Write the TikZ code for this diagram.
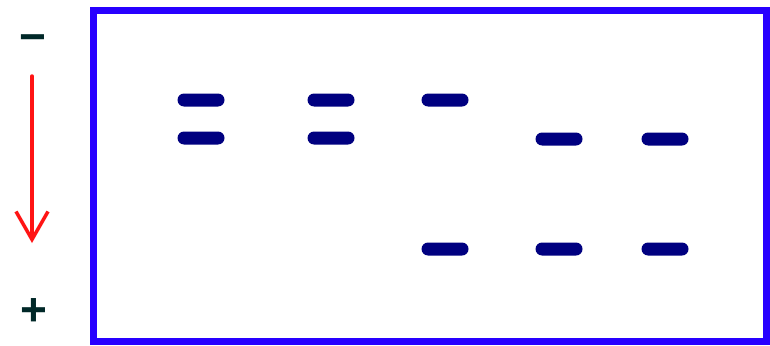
\documentclass[tikz,border=0pt]{standalone}
\usepackage{fontspec}
\setmainfont{Liberation Sans}
\usetikzlibrary{arrows.meta}
\definecolor{boxblue}{RGB}{40,0,255}
\definecolor{bandblue}{RGB}{0,0,128}
\definecolor{signcol}{RGB}{0,40,40}
\definecolor{arrowred}{RGB}{255,20,20}
\tikzset{
  band/.style={fill=bandblue, draw=none, minimum width=47pt, minimum height=13pt, rounded corners=6.5pt, inner sep=0pt},
  sign/.style={text=signcol, font=\fontsize{46}{46}\selectfont\bfseries, inner sep=0pt},
  gelbox/.style={draw=boxblue, line width=7pt},
  migr/.style={draw=arrowred, line width=3.5pt, line cap=round, -{Straight Barb[length=28pt,width=32pt,line width=3.5pt]}}
}
\begin{document}
\begin{tikzpicture}[x=1pt,y=-1pt]
\useasboundingbox (0,0) rectangle (770,345);
\fill[white] (0,0) rectangle (770,345);
\node[gelbox, minimum width=673pt, minimum height=330pt, inner sep=0pt] (gel) at (430,176) {};
% bands
\node[band] (b1a) at (201,100) {};
\node[band] (b1b) at (201,138) {};
\node[band] (b2a) at (331,100) {};
\node[band] (b2b) at (331,138) {};
\node[band] (b3a) at (445,100) {};
\node[band] (b3b) at (445,249) {};
\node[band] (b4a) at (559,139) {};
\node[band] (b4b) at (559,249) {};
\node[band] (b5a) at (665,139) {};
\node[band] (b5b) at (665,249) {};
% signs
\node[sign] (minus) at (33,44) {−};
\node[sign] (plus) at (34,312) {+};
\coordinate (astart) at (32,76);
\coordinate (aend) at (32,243);
\draw[migr] (astart) -- (aend);
\end{tikzpicture}
\end{document}
